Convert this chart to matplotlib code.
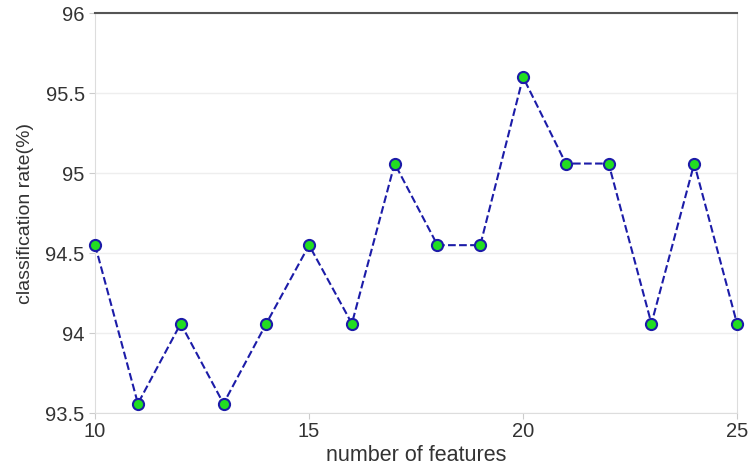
import matplotlib
matplotlib.use("Agg")
import matplotlib.pyplot as plt

num_features = [10, 11, 12, 13, 14, 15, 16, 17, 18, 19, 20, 21, 22, 23, 24, 25]
rate = [94.55, 93.56, 94.06, 93.56, 94.06, 94.55, 94.06, 95.06,
        94.55, 94.55, 95.6, 95.06, 95.06, 94.06, 95.06, 94.06]

plt.rcParams["font.family"] = ["Liberation Sans", "DejaVu Sans"]

fig = plt.figure(figsize=(7.49, 4.69), dpi=100)
ax = fig.add_axes([0.127, 0.119, 0.857, 0.853])

ax.plot(num_features, rate, linestyle="--", color="#1c1ca8", linewidth=1.5,
        marker="o", markersize=8, markerfacecolor="#22dd22",
        markeredgecolor="#1c1ca8", markeredgewidth=1.5, clip_on=False, zorder=3)

ax.set_xlim(10, 25)
ax.set_ylim(93.5, 96)
ax.set_xticks([10, 15, 20, 25])
ax.set_yticks([93.5, 94, 94.5, 95, 95.5, 96])
ax.set_yticklabels(["93.5", "94", "94.5", "95", "95.5", "96"])
ax.grid(axis="y", color="#eeeeee", linewidth=1)

for side in ["left", "right", "bottom"]:
    ax.spines[side].set_color("#dddddd")
ax.spines["top"].set_color("#555555")
ax.spines["top"].set_linewidth(1.5)
ax.tick_params(length=4, color="#cccccc", labelsize=14.5, labelcolor="#333333")
ax.tick_params(axis="x", pad=2)

ax.set_xlabel("number of features", fontsize=15.5, color="#333333", labelpad=3)
ax.set_ylabel("classification rate(%)", fontsize=14, color="#333333", labelpad=8)

fig.savefig("out.png", dpi=100)
